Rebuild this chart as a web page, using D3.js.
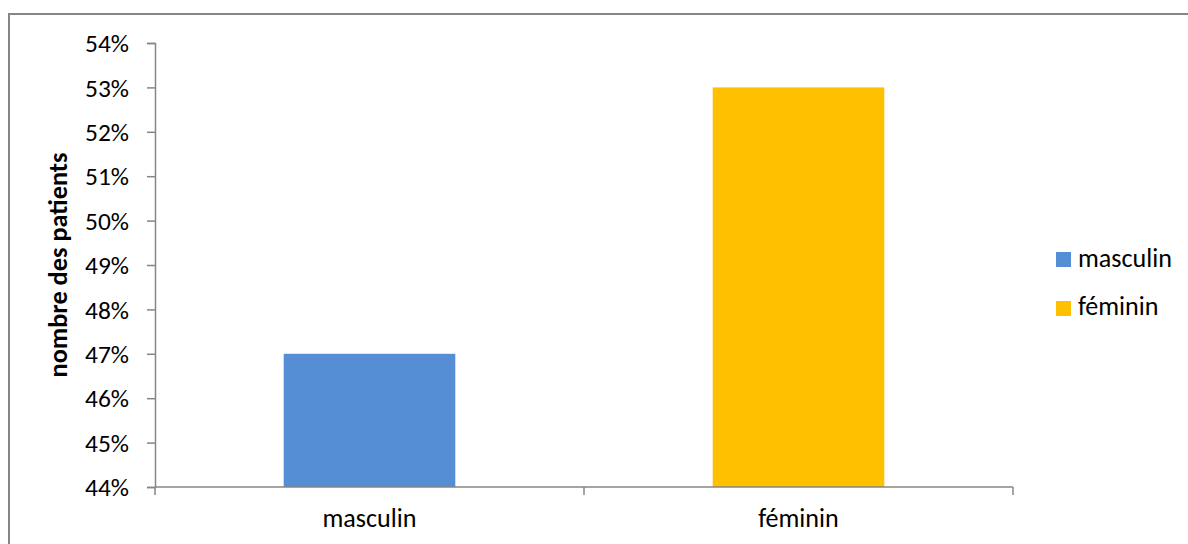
<!DOCTYPE html>
<html><head><meta charset="utf-8">
<script src="https://cdn.jsdelivr.net/npm/d3@7"></script>
<style>
body{margin:0;background:#fff;}
svg{display:block;font-family:Carlito,Lato,"Liberation Sans",sans-serif;}
</style></head><body>
<svg id="c" width="1188" height="544"></svg>
<script>
const categories = ["masculin", "féminin"];
const values = [0.47, 0.53];
const colors = ["#558ED5", "#FFC000"];
const yTicks = [0.44,0.45,0.46,0.47,0.48,0.49,0.50,0.51,0.52,0.53,0.54];
const yTitle = "nombre des patients";

(function(){
const svg = d3.select("#c");
const FONT = "Carlito,Lato,sans-serif";
// find font size so that a sample string has a given width
function fitSize(str, target, weight){
  const t = svg.append("text").attr("font-family",FONT).attr("font-size",100)
    .attr("font-weight",weight||"normal").text(str);
  const w = t.node().getComputedTextLength();
  t.remove();
  return 100*target/w;
}
const fsLabel = fitSize("masculin", 94);
const fsTick = fitSize("54%", 44);
const fsTitle = fitSize(yTitle, 225, "bold");

svg.append("rect").attr("x",9).attr("y",14).attr("width",1300).attr("height",700)
  .attr("fill","#fff").attr("stroke","#868686").attr("stroke-width",2);

const pL=155, pR=1013, pT=43, pB=487;
const y = d3.scaleLinear().domain([0.44,0.54]).range([pB,pT]);
const x = d3.scaleBand().domain(categories).range([pL,pR]).paddingInner(0.6).paddingOuter(0.3);

svg.selectAll("rect.bar").data(categories).enter().append("rect")
  .attr("class","bar")
  .attr("x",d=>x(d)).attr("width",x.bandwidth())
  .attr("y",(d,i)=>y(values[i])).attr("height",(d,i)=>pB-y(values[i]))
  .attr("fill",(d,i)=>colors[i]);

const axisColor="#868686";
const ya = svg.append("g").attr("transform",`translate(${pL},0)`)
  .call(d3.axisLeft(y).tickValues(yTicks).tickFormat(d3.format(".0%")).tickSize(8).tickPadding(18));
ya.select(".domain").attr("stroke",axisColor).attr("stroke-width",1.5);
ya.selectAll(".tick line").attr("stroke",axisColor).attr("stroke-width",1.5);
ya.selectAll("text").attr("font-size",fsTick).attr("fill","#000").attr("font-family",FONT).attr("dy","0.34em");

const xa = svg.append("g").attr("transform",`translate(0,${pB})`);
xa.append("line").attr("x1",pL).attr("x2",pR).attr("stroke",axisColor).attr("stroke-width",1.5);
[pL, (pL+pR)/2, pR].forEach(v=>{
  xa.append("line").attr("x1",v).attr("x2",v).attr("y1",0).attr("y2",8).attr("stroke",axisColor).attr("stroke-width",1.5);
});
xa.selectAll("text.xl").data(categories).enter().append("text")
  .attr("x",d=>x(d)+x.bandwidth()/2).attr("y",40)
  .attr("text-anchor","middle").attr("font-size",fsLabel).attr("fill","#000").text(d=>d);

svg.append("text").attr("transform",`translate(67,${(pT+pB)/2}) rotate(-90)`)
  .attr("text-anchor","middle").attr("font-size",fsTitle).attr("font-weight","bold").attr("fill","#000").text(yTitle);

const lg = svg.append("g");
categories.forEach((c,i)=>{
  lg.append("rect").attr("x",1056).attr("y",252+i*49).attr("width",15).attr("height",15).attr("fill",colors[i]);
  lg.append("text").attr("x",1078).attr("y",267+i*48).attr("font-size",fsLabel).attr("fill","#000").text(c);
});
})();
</script></body></html>
